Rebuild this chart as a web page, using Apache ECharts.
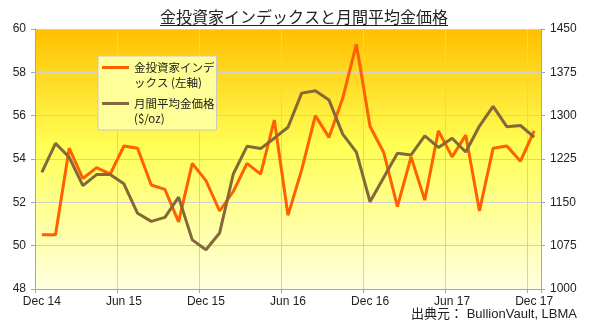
<!DOCTYPE html>
<html>
<head>
<meta charset="utf-8">
<script src="https://cdn.jsdelivr.net/npm/echarts@6/dist/echarts.min.js"></script>
<style>
html,body{margin:0;padding:0;background:#fff;}
#chart{width:589px;height:329px;}
</style>
</head>
<body>
<div id="chart"></div>
<script>
const months = ['Dec 14','Jan 15','Feb 15','Mar 15','Apr 15','May 15','Jun 15','Jul 15','Aug 15','Sep 15','Oct 15','Nov 15',
  'Dec 15','Jan 16','Feb 16','Mar 16','Apr 16','May 16','Jun 16','Jul 16','Aug 16','Sep 16','Oct 16','Nov 16',
  'Dec 16','Jan 17','Feb 17','Mar 17','Apr 17','May 17','Jun 17','Jul 17','Aug 17','Sep 17','Oct 17','Nov 17','Dec 17'];
const investorIndex = [50.5, 50.5, 54.5, 53.1, 53.6, 53.3, 54.6, 54.5, 52.8, 52.6, 51.1, 53.8,
  53.0, 51.6, 52.5, 53.8, 53.3, 55.8, 51.4, 53.5, 56.0, 55.0, 56.8, 59.3,
  55.5, 54.3, 51.8, 54.1, 52.1, 55.3, 54.1, 55.1, 51.6, 54.5, 54.6, 53.9, 55.3];
const goldPrice = [1202, 1252, 1228, 1179, 1198, 1198, 1182, 1131, 1117, 1124, 1159, 1085,
  1068, 1097, 1199, 1247, 1243, 1261, 1280, 1339, 1343, 1327, 1268, 1237,
  1151, 1193, 1235, 1232, 1265, 1245, 1261, 1237, 1282, 1316, 1281, 1283, 1263];
const seriesNames = ['金投資家インデックス (左軸)', '月間平均金価格 ($/oz)'];
const legendLabels = ['金投資家インデ\nックス (左軸)', '月間平均金価格\n($/oz)'];
const titleText = '金投資家インデックスと月間平均金価格';
const sourceText = '出典元： BullionVault, LBMA';

const FONT = "'Liberation Sans', Arial, 'Noto Sans CJK JP', sans-serif";
const CJK = "'Noto Sans CJK JP', 'Liberation Sans', sans-serif";

const chart = echarts.init(document.getElementById('chart'), null, {renderer: 'canvas'});
chart.setOption({
  animation: false,
  backgroundColor: '#ffffff',
  title: {
    text: titleText,
    left: 160, top: 8, padding: 0,
    textStyle: {fontFamily: CJK, fontSize: 16, fontWeight: 'normal', color: '#222', lineHeight: 17}
  },
  graphic: [
    {type: 'line', shape: {x1: 160, y1: 25.5, x2: 448, y2: 25.5}, style: {stroke: '#222', lineWidth: 1}, silent: true},
    {type: 'text', right: 12, top: 308, style: {text: sourceText, font: "13px 'Liberation Sans', Arial, 'Noto Sans CJK JP', sans-serif", fill: '#222'}, z: 100}
  ],
  legend: {
    orient: 'vertical',
    left: 98, top: 56,
    padding: [4, 2, 4, 4],
    itemGap: 6,
    itemWidth: 27, itemHeight: 30,
    icon: 'path://M0,0h0.01v0.01h-0.01z M0,6h27v3h-27z M26.99,29.99h0.01v0.01h-0.01z',
    itemStyle: {borderWidth: 0},
    backgroundColor: '#FFFF99',
    borderColor: '#C8C8C8', borderWidth: 1,
    data: seriesNames,
    formatter: function (name) { return legendLabels[seriesNames.indexOf(name)]; },
    textStyle: {fontFamily: CJK, fontSize: 11.5, lineHeight: 15, color: '#222'}
  },
  grid: {
    left: 35, right: 48, top: 29, bottom: 40,
    show: true, borderWidth: 0,
    backgroundColor: new echarts.graphic.LinearGradient(0, 0, 0, 1, [
      {offset: 0, color: '#FFC000'},
      {offset: 0.45, color: '#FFFF55'},
      {offset: 1, color: '#FFFFE0'}
    ])
  },
  xAxis: {
    type: 'category',
    data: months,
    boundaryGap: true,
    axisLine: {lineStyle: {color: '#A6A6A6', width: 1}},
    axisTick: {show: true, interval: 5, length: 4, lineStyle: {color: '#A6A6A6'}},
    axisLabel: {interval: 5, margin: 7, fontFamily: FONT, fontSize: 12, color: '#222'},
    splitLine: {show: true, interval: 5, lineStyle: {color: '#CFCFCF', width: 1}}
  },
  yAxis: [
    {
      type: 'value', min: 48, max: 60, interval: 2, position: 'left',
      axisLine: {show: true, lineStyle: {color: '#A6A6A6'}},
      axisTick: {show: true, length: 4, lineStyle: {color: '#A6A6A6'}},
      axisLabel: {margin: 9, fontFamily: FONT, fontSize: 12, color: '#222', formatter: function (v) { return String(v); }},
      splitLine: {show: true, lineStyle: {color: '#CFCFCF', width: 1}}
    },
    {
      type: 'value', min: 1000, max: 1450, interval: 75, position: 'right',
      axisLine: {show: true, lineStyle: {color: '#A6A6A6'}},
      axisTick: {show: true, length: 4, lineStyle: {color: '#A6A6A6'}},
      axisLabel: {margin: 9, fontFamily: FONT, fontSize: 12, color: '#222', formatter: function (v) { return String(v); }},
      splitLine: {show: false}
    }
  ],
  series: [
    {
      name: seriesNames[0], type: 'line', yAxisIndex: 0, data: investorIndex,
      showSymbol: false, symbol: 'none',
      lineStyle: {color: '#FF6000', width: 3}, itemStyle: {color: '#FF6000'}
    },
    {
      name: seriesNames[1], type: 'line', yAxisIndex: 1, data: goldPrice,
      showSymbol: false, symbol: 'none',
      lineStyle: {color: '#85683A', width: 3}, itemStyle: {color: '#85683A'}
    }
  ]
});
</script>
</body>
</html>
